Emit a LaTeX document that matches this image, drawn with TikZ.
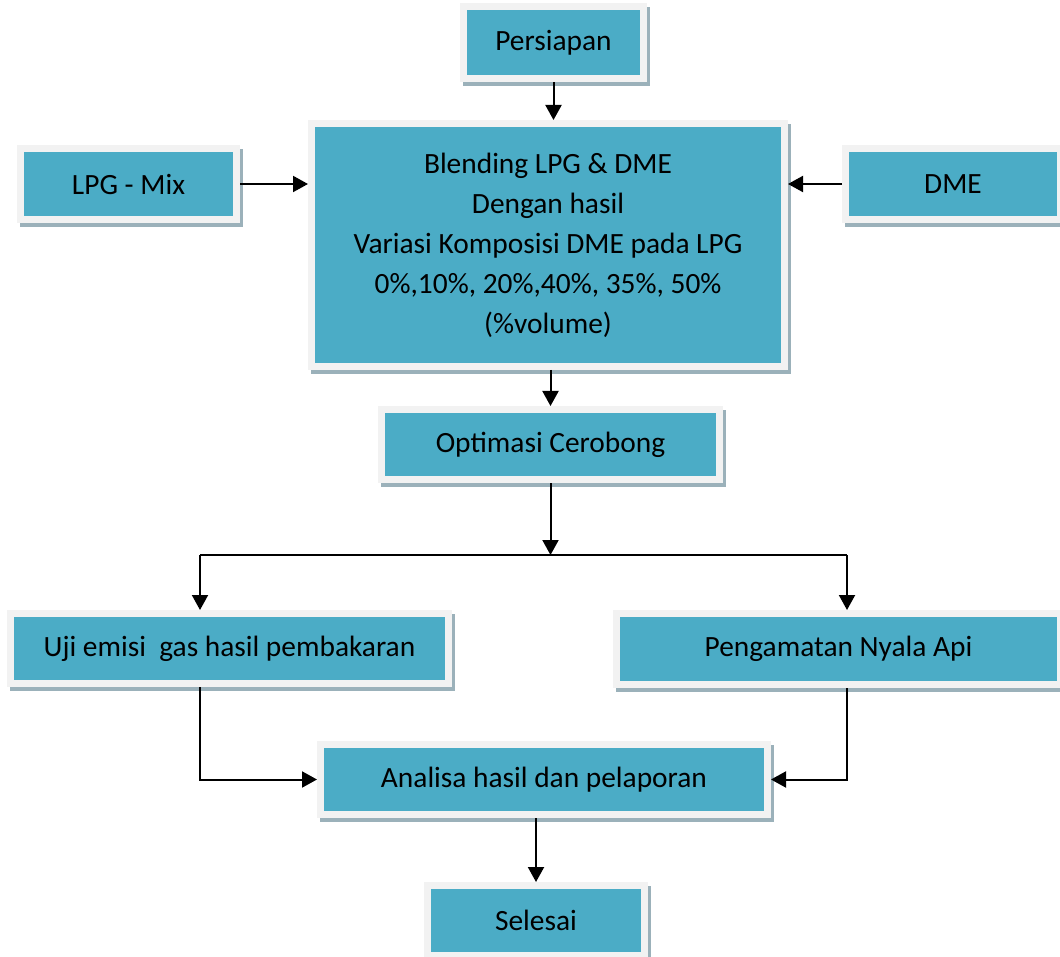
\documentclass[tikz,border=0pt]{standalone}
\usepackage{fontspec}
\setmainfont{Carlito}
\usepackage{xcolor}
\usetikzlibrary{arrows.meta, positioning, shadows}
\definecolor{boxteal}{HTML}{4BACC6}
\definecolor{framegray}{HTML}{F2F2F2}
\definecolor{shadowblue}{HTML}{9BB1BA}

\begin{document}
\begin{tikzpicture}[
    x=1pt, y=-1pt,
    stepbox/.style = {rectangle, fill=framegray, inner sep=0pt, outer sep=0pt, minimum height=77pt, align=center, font=\fontsize{29.4}{40}\selectfont, path picture={\fill[boxteal] ([shift={(7pt,7pt)}]path picture bounding box.south west) rectangle ([shift={(-7pt,-7pt)}]path picture bounding box.north east);}, drop shadow={shadow xshift=3pt, shadow yshift=-4pt, fill=shadowblue, opacity=1}},
    arrow/.style = {draw, line width=2pt, -{Triangle[width=16pt, length=15pt]}},
    link/.style = {draw, line width=1.8pt}
]
    \useasboundingbox (0,0) rectangle (1060,957);

    \node [stepbox, minimum width=187pt, minimum height=79pt] (persiapan) at (553.5,42.5) {Persiapan};
    \node [stepbox, minimum width=480pt, minimum height=250pt, below=38pt of persiapan, xshift=-5.5pt] (blending) {Blending LPG \& DME\\Dengan hasil\\Variasi Komposisi DME pada LPG\\0\%,10\%, 20\%,40\%, 35\%, 50\%\\(\%volume)};
    \node [stepbox, minimum width=223pt, minimum height=78pt] (lpg) at (128.5,184) {LPG - Mix};
    \node [stepbox, minimum width=222pt, minimum height=78pt] (dme) at (953,184) {DME};
    \node [stepbox, minimum width=345pt, below=36pt of blending, xshift=2.5pt] (optimasi) {Optimasi Cerobong};
    \node [stepbox, minimum width=445pt] (uji) at (229.5,648.5) {Uji emisi\ \ gas hasil pembakaran};
    \node [stepbox, minimum width=451pt, minimum height=78pt] (pengamatan) at (838.5,649) {Pengamatan Nyala Api};
    \node [stepbox, minimum width=454pt] (analisa) at (544,779.5) {Analisa hasil dan pelaporan};
    \node [stepbox, minimum width=224pt, below=64pt of analisa, xshift=-8pt] (selesai) {Selesai};

    \coordinate [below=72pt of optimasi.south] (split);
    \coordinate (ujiin) at ([xshift=-29.5pt]uji.north);
    \coordinate (ujiout) at ([xshift=-29.5pt]uji.south);
    \coordinate (pengin) at ([xshift=8.5pt]pengamatan.north);
    \coordinate (pengout) at ([xshift=8.5pt]pengamatan.south);

    \draw [arrow] (persiapan.south) -- (persiapan.south |- blending.north);
    \draw [arrow] (lpg.east) -- (lpg.east -| blending.west);
    \draw [arrow] (dme.west) -- (dme.west -| blending.east);
    \draw [arrow] (blending.south -| optimasi.north) -- (optimasi.north);
    \draw [arrow] (optimasi.south) -- (split);
    \draw [link] (split -| ujiin) -- (split -| pengin);
    \draw [arrow] (split -| ujiin) -- (ujiin);
    \draw [arrow] (split -| pengin) -- (pengin);
    \draw [arrow] (ujiout) |- (analisa.west);
    \draw [arrow] (pengout) |- (analisa.east);
    \draw [arrow] (analisa.south -| selesai.north) -- (selesai.north);
\end{tikzpicture}
\end{document}
